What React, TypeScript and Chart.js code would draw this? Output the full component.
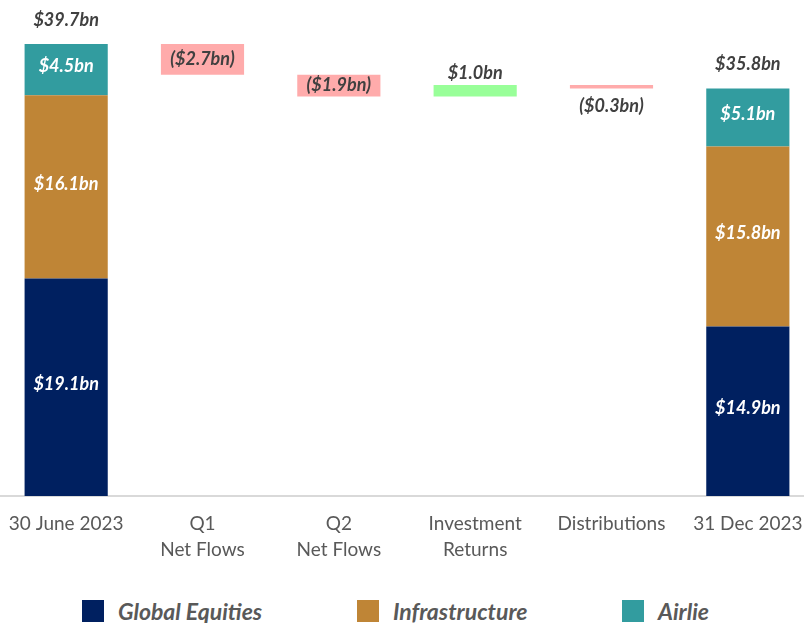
import React, { useEffect, useRef } from "react";
import { Chart, registerables } from "chart.js";

Chart.register(...registerables);

const categories: string[][] = [
  ["30 June 2023"],
  ["Q1", "Net Flows"],
  ["Q2", "Net Flows"],
  ["Investment", "Returns"],
  ["Distributions"],
  ["31 Dec 2023"],
];
const globalEquities: (number | null)[] = [19.1, null, null, null, null, 14.9];
const infrastructure: (number | null)[] = [16.1, null, null, null, null, 15.8];
const airlie: (number | null)[] = [4.5, null, null, null, null, 5.1];
const totals: (number | null)[] = [39.7, null, null, null, null, 35.8];
const flows: (number | null)[] = [null, -2.7, -1.9, 1.0, -0.3, null];
const seriesNames = ["Global Equities", "Infrastructure", "Airlie"];

const flowLabelPlacement = [null, "inside", "inside", "above", "below", null];

const COL_EQ = "#002060";
const COL_INFRA = "#BF8536";
const COL_AIRLIE = "#329C9F";
const COL_NEG = "#FFABAB";
const COL_POS = "#99FF99";
const TEXT_DARK = "#404040";
const TEXT_GRAY = "#595959";
const FONT = "Lato, 'Open Sans', sans-serif";

const segments = [globalEquities, infrastructure, airlie];

function stackRanges(segIdx: number) {
  return categories.map((_, i) => {
    const v = segments[segIdx][i];
    if (v == null) return null;
    let base = 0;
    for (let k = 0; k < segIdx; k++) base += segments[k][i] ?? 0;
    return [base, base + v];
  });
}

function flowRanges() {
  let run = totals[0] as number;
  return flows.map((v) => {
    if (v == null) return null;
    const r = [run, run + v];
    run += v;
    return r;
  });
}

function fmt(v: number) {
  return v < 0 ? `($${Math.abs(v).toFixed(1)}bn)` : `$${v.toFixed(1)}bn`;
}

const labelPlugin = {
  id: "wfLabels",
  afterDatasetsDraw(chart: any) {
    const ctx = chart.ctx;
    ctx.save();
    ctx.font = `italic bold 18px ${FONT}`;
    ctx.textAlign = "center";
    ctx.textBaseline = "middle";
    for (let d = 0; d < 3; d++) {
      const meta = chart.getDatasetMeta(d);
      meta.data.forEach((el: any, i: number) => {
        const v = segments[d][i];
        if (v == null) return;
        const { x, y, base } = el.getProps(["x", "y", "base"], true);
        ctx.fillStyle = "#FFFFFF";
        ctx.fillText(fmt(v), x, (y + base) / 2 - 3);
      });
    }
    const topMeta = chart.getDatasetMeta(2);
    topMeta.data.forEach((el: any, i: number) => {
      const t = totals[i];
      if (t == null) return;
      const { x, y, base } = el.getProps(["x", "y", "base"], true);
      ctx.fillStyle = TEXT_DARK;
      ctx.fillText(fmt(t), x, Math.min(y, base) - 24);
    });
    const fMeta = chart.getDatasetMeta(3);
    fMeta.data.forEach((el: any, i: number) => {
      const v = flows[i];
      if (v == null) return;
      const { x, y, base } = el.getProps(["x", "y", "base"], true);
      const top = Math.min(y, base);
      const bot = Math.max(y, base);
      let ly = (top + bot) / 2;
      const p = flowLabelPlacement[i];
      if (p === "above") ly = top - 12;
      if (p === "below") ly = bot + 18;
      ctx.fillStyle = TEXT_DARK;
      ctx.fillText(fmt(v), x, ly);
    });
    ctx.restore();
  },
};

export default function App() {
  const ref = useRef<HTMLCanvasElement | null>(null);
  useEffect(() => {
    if (!ref.current) return;
    document.body.style.overflow = "hidden";
    const common = {
      grouped: false,
      barPercentage: 1,
      categoryPercentage: 0.61,
      borderWidth: 0,
    };
    const chart = new Chart(ref.current, {
      type: "bar",
      data: {
        labels: categories,
        datasets: [
          { label: seriesNames[0], data: stackRanges(0) as any, backgroundColor: COL_EQ, ...common },
          { label: seriesNames[1], data: stackRanges(1) as any, backgroundColor: COL_INFRA, ...common },
          { label: seriesNames[2], data: stackRanges(2) as any, backgroundColor: COL_AIRLIE, ...common },
          {
            label: "Change",
            data: flowRanges() as any,
            backgroundColor: flows.map((v) => (v != null && v < 0 ? COL_NEG : COL_POS)),
            ...common,
          },
        ],
      },
      options: {
        responsive: false,
        animation: false,
        layout: { padding: { top: 0, bottom: 0, left: 0, right: 0 } },
        plugins: { legend: { display: false }, tooltip: { enabled: false } },
        scales: {
          x: {
            grid: { display: false, drawTicks: false },
            border: { display: true, color: "#D9D9D9", width: 2 },
            ticks: {
              color: TEXT_GRAY,
              font: { family: FONT, size: 19, lineHeight: 1.37 },
              padding: 15,
              maxRotation: 0,
              autoSkip: false,
            },
            afterFit: (scale: any) => {
              scale.height = 74;
              scale.paddingLeft = 0;
              scale.paddingRight = 0;
            },
          },
          y: {
            display: false,
            min: 0,
            max: 43.57,
          },
        },
      },
      plugins: [labelPlugin],
    });
    return () => chart.destroy();
  }, []);

  const legendItems = [
    { name: seriesNames[0], color: COL_EQ, left: 82 },
    { name: seriesNames[1], color: COL_INFRA, left: 357 },
    { name: seriesNames[2], color: COL_AIRLIE, left: 622 },
  ];

  return (
    <div
      style={{
        position: "fixed",
        left: 0,
        top: 0,
        width: 804,
        height: 623,
        overflow: "hidden",
        background: "#FFFFFF",
      }}
    >
      <canvas ref={ref} width={818} height={570} style={{ position: "absolute", left: -2, top: 0 }} />
      {legendItems.map((it) => (
        <div
          key={it.name}
          style={{
            position: "absolute",
            left: it.left,
            top: 600,
            height: 22,
            display: "flex",
            alignItems: "center",
            whiteSpace: "nowrap",
          }}
        >
          <span style={{ display: "inline-block", width: 22, height: 22, background: it.color }} />
          <span
            style={{
              marginLeft: 14,
              fontFamily: FONT,
              fontStyle: "italic",
              fontWeight: 700,
              fontSize: 23,
              color: TEXT_GRAY,
              lineHeight: "22px",
            }}
          >
            {it.name}
          </span>
        </div>
      ))}
    </div>
  );
}
